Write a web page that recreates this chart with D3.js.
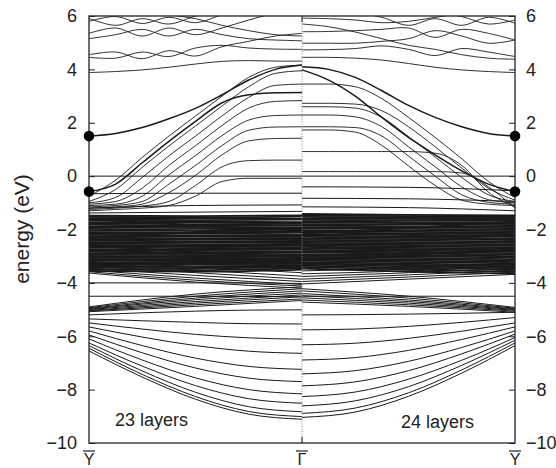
<!DOCTYPE html>
<html>
<head>
<meta charset="utf-8">
<script src="https://cdn.jsdelivr.net/npm/d3@7"></script>
<style>
  body { margin: 0; background: #fff; }
  svg { display: block; }
  svg text { font-family: "Liberation Sans", Arial, sans-serif; fill: #222; }
</style>
</head>
<body>
<div id="chart"></div>
<script>
// k-path and axis values
var kLabels = ["Y", "Γ", "Y"];
var kTicks = [0, 1, 2];
var yTicks = [-10, -8, -6, -4, -2, 0, 2, 4, 6];
var panelLabels = ["23 layers", "24 layers"];
var dotEnergies = [1.5, -0.58];   // surface states at Y
var fermiLevel = 0;

// every band is listed from Y (k=0) to Gamma (k=1), points evenly spaced
// ---------- left panel: 23 layers ----------
var upper23 = [
  [5.91, 5.65, 5.90, 5.70, 6.00, 6.25, 6.50, 6.65, 6.70],
  [5.80, 5.98, 5.72, 5.95, 5.75, 6.05, 6.35, 6.60, 6.70],
  [6.60, 6.40, 6.25, 6.05, 5.90, 5.65, 5.45, 5.30, 5.25],
  [5.35, 5.55, 5.25, 5.55, 5.30, 5.55, 5.85, 6.10, 6.20],
  [5.15, 5.30, 5.50, 5.25, 5.50, 5.30, 5.15, 5.10, 5.07],
  [4.55, 4.65, 4.40, 4.70, 4.50, 4.85, 5.05, 5.25, 5.35],
  [4.45, 4.42, 4.65, 4.48, 4.80, 4.90, 4.80, 4.76, 4.75],
  [3.88, 3.92, 3.98, 4.08, 4.20, 4.30, 4.33, 4.31, 4.31]
];
var surface23 = [
  [1.50, 1.60, 1.82, 2.15, 2.54, 3.05, 3.60, 4.00, 4.16],
  [-0.58, -0.30, 0.50, 1.30, 2.05, 2.75, 3.05, 3.12, 3.13]
];
var dome23 = [
  [-0.75, -0.15, 0.70, 1.50, 2.25, 3.00, 3.70, 4.08, 4.16],
  [-0.95, -0.50, 0.33, 1.13, 1.88, 2.63, 3.35, 3.85, 3.95],
  [-1.00, -0.80, -0.05, 0.76, 1.50, 2.26, 2.95, 3.40, 3.45],
  [-1.05, -0.95, -0.45, 0.40, 1.14, 1.90, 2.55, 2.80, 2.83],
  [-1.10, -1.05, -0.75, 0.05, 0.77, 1.52, 2.10, 2.27, 2.29],
  [-1.15, -1.10, -0.95, -0.30, 0.40, 1.15, 1.72, 1.84, 1.85],
  [-1.20, -1.15, -1.05, -0.62, 0.03, 0.80, 1.32, 1.41, 1.42],
  [-1.25, -1.20, -1.12, -0.95, -0.35, 0.35, 0.58, 0.60, 0.60],
  [-1.30, -1.25, -1.20, -1.10, -0.75, -0.20, -0.08, -0.08, -0.08]
];
var flat23 = [
  [-0.66, -0.64, -0.64],
  [-1.20, -1.10, -1.08],
  [-1.38, -1.35, -1.32]
];
var block23 = [
  [-1.48, -1.50, -1.47], [-1.53, -1.55, -1.52], [-1.58, -1.57, -1.60], [-1.62, -1.65, -1.63],
  [-1.67, -1.70, -1.72], [-1.73, -1.72, -1.76], [-1.78, -1.80, -1.79], [-1.82, -1.86, -1.85],
  [-1.88, -1.90, -1.92], [-1.93, -1.95, -1.96], [-1.98, -2.02, -2.00], [-2.04, -2.05, -2.07],
  [-2.10, -2.12, -2.11], [-2.15, -2.15, -2.18], [-2.20, -2.22, -2.22], [-2.26, -2.27, -2.28],
  [-2.31, -2.33, -2.32], [-2.36, -2.37, -2.38], [-2.42, -2.44, -2.43], [-2.47, -2.48, -2.50],
  [-2.52, -2.55, -2.54], [-2.58, -2.60, -2.60], [-2.63, -2.64, -2.66], [-2.68, -2.70, -2.70],
  [-2.74, -2.76, -2.75], [-2.79, -2.80, -2.82], [-2.84, -2.86, -2.86], [-2.90, -2.91, -2.92],
  [-2.95, -2.96, -2.97], [-3.00, -3.03, -3.02], [-3.06, -3.07, -3.08], [-3.11, -3.12, -3.13],
  [-3.16, -3.18, -3.18], [-3.22, -3.22, -3.24], [-3.27, -3.28, -3.29], [-3.33, -3.32, -3.34],
  [-3.38, -3.40, -3.38], [-3.44, -3.45, -3.42], [-3.50, -3.52, -3.46], [-3.56, -3.58, -3.50],
  [-1.60, -1.85, -2.05], [-2.30, -2.10, -1.95], [-2.60, -2.85, -3.05], [-2.95, -2.70, -2.55]
];
var lower23 = [
  [-3.20, -3.40, -3.62], [-3.30, -3.52, -3.75], [-3.36, -3.62, -3.86], [-3.45, -3.72, -3.95],
  [-3.52, -3.82, -4.06], [-3.58, -3.90, -4.12], [-3.63, -3.97, -4.20],
  [-4.00, -4.00, -4.02], [-4.50, -4.50, -4.52],
  [-4.90, -4.42, -4.15], [-4.93, -4.50, -4.22], [-4.96, -4.57, -4.30], [-4.98, -4.63, -4.38],
  [-5.00, -4.70, -4.45], [-5.03, -4.76, -4.52], [-5.05, -4.82, -4.60], [-5.08, -4.88, -4.66]
];
var bowl23 = [
  [-5.20, -5.12, -5.06, -5.02, -5.01],
  [-5.35, -5.42, -5.48, -5.53, -5.54],
  [-5.50, -5.73, -5.93, -6.06, -6.11],
  [-5.65, -6.03, -6.35, -6.56, -6.64],
  [-5.80, -6.35, -6.82, -7.13, -7.24],
  [-5.95, -6.62, -7.19, -7.57, -7.70],
  [-6.10, -6.89, -7.56, -8.00, -8.16],
  [-6.25, -7.12, -7.85, -8.34, -8.51],
  [-6.35, -7.30, -8.10, -8.64, -8.83],
  [-6.45, -7.43, -8.26, -8.82, -9.01],
  [-6.55, -7.53, -8.36, -8.92, -9.11]
];

// ---------- right panel: 24 layers ----------
var upper24 = [
  [5.85, 5.70, 5.98, 6.15, 6.40, 6.60, 6.80, 6.90, 6.90],
  [5.73, 5.95, 5.65, 5.90, 5.65, 5.95, 6.15, 6.28, 6.30],
  [6.45, 6.30, 6.10, 5.95, 5.80, 5.75, 5.85, 5.90, 5.92],
  [5.10, 5.35, 5.50, 5.20, 5.55, 5.50, 5.45, 5.42, 5.41],
  [5.10, 4.98, 5.25, 5.45, 5.15, 5.05, 4.98, 4.98, 4.98],
  [4.48, 4.65, 4.78, 4.52, 4.75, 4.88, 4.78, 4.74, 4.73],
  [4.38, 4.42, 4.55, 4.75, 4.90, 5.15, 5.40, 5.60, 5.70],
  [3.88, 3.92, 3.98, 4.08, 4.22, 4.35, 4.42, 4.45, 4.45]
];
var surface24 = [
  [1.50, 1.60, 1.85, 2.20, 2.65, 3.20, 3.70, 4.00, 4.10],
  [-0.58, -0.30, 0.20, 0.80, 1.45, 2.20, 3.00, 3.60, 3.98]
];
var dome24 = [
  [-0.80, -0.20, 0.65, 1.45, 2.20, 2.90, 3.35, 3.45, 3.45],
  [-0.90, -0.45, 0.30, 1.10, 1.85, 2.45, 2.70, 2.73, 2.73],
  [-0.95, -0.70, -0.05, 0.72, 1.48, 2.20, 2.55, 2.60, 2.60],
  [-1.00, -0.88, -0.40, 0.35, 1.10, 1.85, 2.22, 2.29, 2.29],
  [-1.05, -0.98, -0.70, 0.00, 0.75, 1.50, 1.82, 1.85, 1.85],
  [-1.10, -1.05, -0.90, -0.35, 0.38, 1.15, 1.65, 1.73, 1.73],
  [-1.15, -0.60, 0.40, 0.86, 0.92, 0.92, 0.92, 0.92, 0.92],
  [-1.20, -0.40, 0.12, 0.17, 0.17, 0.17, 0.17, 0.17, 0.17]
];
var flat24 = [
  [-0.55, -0.42, -0.40],
  [-0.95, -0.85, -0.83],
  [-1.30, -1.18, -1.15]
];
var block24 = [
  [-1.47, -1.45, -1.42], [-1.52, -1.50, -1.48], [-1.57, -1.56, -1.53], [-1.63, -1.60, -1.59],
  [-1.68, -1.66, -1.64], [-1.73, -1.72, -1.70], [-1.79, -1.76, -1.74], [-1.84, -1.82, -1.80],
  [-1.90, -1.88, -1.85], [-1.95, -1.92, -1.91], [-2.01, -1.98, -1.96], [-2.06, -2.04, -2.02],
  [-2.12, -2.09, -2.07], [-2.17, -2.15, -2.12], [-2.23, -2.20, -2.18], [-2.28, -2.26, -2.23],
  [-2.34, -2.31, -2.28], [-2.39, -2.36, -2.34], [-2.45, -2.42, -2.39], [-2.50, -2.47, -2.44],
  [-2.56, -2.52, -2.50], [-2.61, -2.58, -2.55], [-2.67, -2.63, -2.60], [-2.72, -2.69, -2.65],
  [-2.78, -2.74, -2.71], [-2.83, -2.79, -2.76], [-2.89, -2.85, -2.81], [-2.94, -2.90, -2.86],
  [-3.00, -2.96, -2.92], [-3.05, -3.01, -2.97], [-3.11, -3.06, -3.02], [-3.16, -3.12, -3.07],
  [-3.22, -3.17, -3.12], [-3.27, -3.22, -3.17], [-3.33, -3.28, -3.22], [-3.38, -3.33, -3.27],
  [-3.44, -3.38, -3.31], [-3.50, -3.44, -3.35], [-3.58, -3.50, -3.40], [-3.66, -3.58, -3.46],
  [-1.70, -1.95, -2.15], [-2.40, -2.20, -2.05], [-2.75, -2.95, -3.10], [-3.05, -2.80, -2.62]
];
var lower24 = [
  [-3.30, -3.45, -3.55], [-3.38, -3.55, -3.66], [-3.45, -3.62, -3.76], [-3.52, -3.70, -3.86],
  [-3.60, -3.78, -3.95], [-3.68, -3.86, -4.04],
  [-4.50, -4.50, -4.50],
  [-4.92, -4.50, -4.22], [-4.95, -4.57, -4.30], [-4.98, -4.64, -4.40], [-5.00, -4.70, -4.48],
  [-5.03, -4.76, -4.56], [-5.06, -4.82, -4.64], [-5.10, -4.88, -4.72]
];
var bowl24 = [
  [-5.10, -5.14, -5.17, -5.19, -5.20],
  [-5.30, -5.48, -5.63, -5.73, -5.76],
  [-5.50, -5.81, -6.08, -6.26, -6.32],
  [-5.65, -6.12, -6.53, -6.80, -6.89],
  [-5.80, -6.42, -6.94, -7.29, -7.41],
  [-5.92, -6.66, -7.29, -7.71, -7.86],
  [-6.05, -6.90, -7.61, -8.09, -8.26],
  [-6.15, -7.09, -7.89, -8.42, -8.61],
  [-6.25, -7.26, -8.12, -8.69, -8.89],
  [-6.35, -7.38, -8.25, -8.84, -9.04]
];

// ---------- layout ----------
var svgWidth = 556;
var svgHeight = 468;
var margin = { top: 16, right: 41, bottom: 25, left: 89 };
var width = svgWidth - margin.left - margin.right;
var height = svgHeight - margin.top - margin.bottom;

var svg = d3.select("#chart")
  .append("svg")
  .attr("width", svgWidth)
  .attr("height", svgHeight);

var chartGroup = svg.append("g")
  .attr("transform", `translate(${margin.left}, ${margin.top})`);

var xScale = d3.scaleLinear().domain([0, 2]).range([0, width]);
var yScale = d3.scaleLinear().domain([-10, 6]).range([height, 0]);

svg.append("clipPath").attr("id", "plotClip")
  .append("rect").attr("width", width).attr("height", height);

var bandGroup = chartGroup.append("g").attr("clip-path", "url(#plotClip)");

// fermi level reference line
bandGroup.append("line")
  .attr("x1", xScale(0)).attr("x2", xScale(2))
  .attr("y1", yScale(fermiLevel)).attr("y2", yScale(fermiLevel))
  .attr("stroke", "#1a1a1a").attr("stroke-width", 1);

// panel 0 runs Y->Gamma left to right, panel 1 is drawn mirrored
function drawBands(bands, panel, widthPx, curve) {
  var line = d3.line()
    .x(d => xScale(d[0]))
    .y(d => yScale(d[1]))
    .curve(curve);
  bands.forEach(function(b) {
    var n = b.length;
    var pts = b.map(function(e, i) {
      var k = i / (n - 1);
      return [panel === 0 ? k : 2 - k, e];
    });
    if (panel === 1) pts.reverse();
    bandGroup.append("path")
      .datum(pts)
      .attr("d", line)
      .attr("fill", "none")
      .attr("stroke", "#1a1a1a")
      .attr("stroke-width", widthPx);
  });
}

var smooth = d3.curveCatmullRom.alpha(0.5);
var mono = d3.curveMonotoneX;

drawBands(upper23, 0, 0.9, smooth);
drawBands(dome23, 0, 0.9, mono);
drawBands(flat23, 0, 1, mono);
drawBands(block23, 0, 1.8, mono);
drawBands(lower23, 0, 1, mono);
drawBands(bowl23, 0, 1, mono);
drawBands(surface23, 0, 1.5, mono);

drawBands(upper24, 1, 0.9, smooth);
drawBands(dome24, 1, 0.9, mono);
drawBands(flat24, 1, 1, mono);
drawBands(block24, 1, 1.8, mono);
drawBands(lower24, 1, 1, mono);
drawBands(bowl24, 1, 1, mono);
drawBands(surface24, 1, 1.5, mono);

// dotted line at Gamma
chartGroup.append("line")
  .attr("x1", xScale(1)).attr("x2", xScale(1))
  .attr("y1", 0).attr("y2", height)
  .attr("stroke", "#888")
  .attr("stroke-width", 1)
  .attr("stroke-dasharray", "1,1.5");

// short ticks at Gamma, top and bottom
[0, height].forEach(function(y0) {
  chartGroup.append("line")
    .attr("x1", xScale(1)).attr("x2", xScale(1))
    .attr("y1", y0).attr("y2", y0 === 0 ? 6 : height - 6)
    .attr("stroke", "#222").attr("stroke-width", 1);
});

// frame and energy axes
chartGroup.append("rect")
  .attr("width", width).attr("height", height)
  .attr("fill", "none").attr("stroke", "#222").attr("stroke-width", 1.3);

var leftAxis = d3.axisLeft(yScale).tickValues(yTicks).tickSizeInner(-6).tickSizeOuter(0).tickPadding(12);
var rightAxis = d3.axisRight(yScale).tickValues(yTicks).tickSizeInner(-6).tickSizeOuter(0).tickPadding(11);

var gl = chartGroup.append("g").call(leftAxis);
var gr = chartGroup.append("g").attr("transform", `translate(${width}, 0)`).call(rightAxis);
[gl, gr].forEach(function(g) {
  g.select(".domain").remove();
  g.selectAll("line").attr("stroke", "#222");
  g.selectAll("text")
    .attr("font-size", "18px")
    .attr("font-family", "Liberation Sans, Arial, sans-serif")
    .attr("fill", "#222");
});

// surface state dots
[0, 2].forEach(function(k) {
  dotEnergies.forEach(function(e) {
    chartGroup.append("circle")
      .attr("cx", xScale(k)).attr("cy", yScale(e))
      .attr("r", 5.3).attr("fill", "#000");
  });
});

// k-point labels with overbars
kTicks.forEach(function(k, i) {
  var x = xScale(k);
  chartGroup.append("text")
    .attr("x", x).attr("y", height + 22)
    .attr("text-anchor", "middle")
    .attr("font-size", "16px")
    .text(kLabels[i]);
  chartGroup.append("line")
    .attr("x1", x - 6).attr("x2", x + 6)
    .attr("y1", height + 8).attr("y2", height + 8)
    .attr("stroke", "#222").attr("stroke-width", 1.2);
});

// panel labels
chartGroup.append("text")
  .attr("x", 26).attr("y", height - 17)
  .attr("font-size", "18px")
  .text(panelLabels[0]);
chartGroup.append("text")
  .attr("x", width - 41).attr("y", height - 15)
  .attr("text-anchor", "end")
  .attr("font-size", "18px")
  .text(panelLabels[1]);

// axis label
svg.append("text")
  .attr("transform", "translate(29, 229) rotate(-90)")
  .attr("text-anchor", "middle")
  .attr("font-size", "21px")
  .text("energy (eV)");
</script>
</body>
</html>
